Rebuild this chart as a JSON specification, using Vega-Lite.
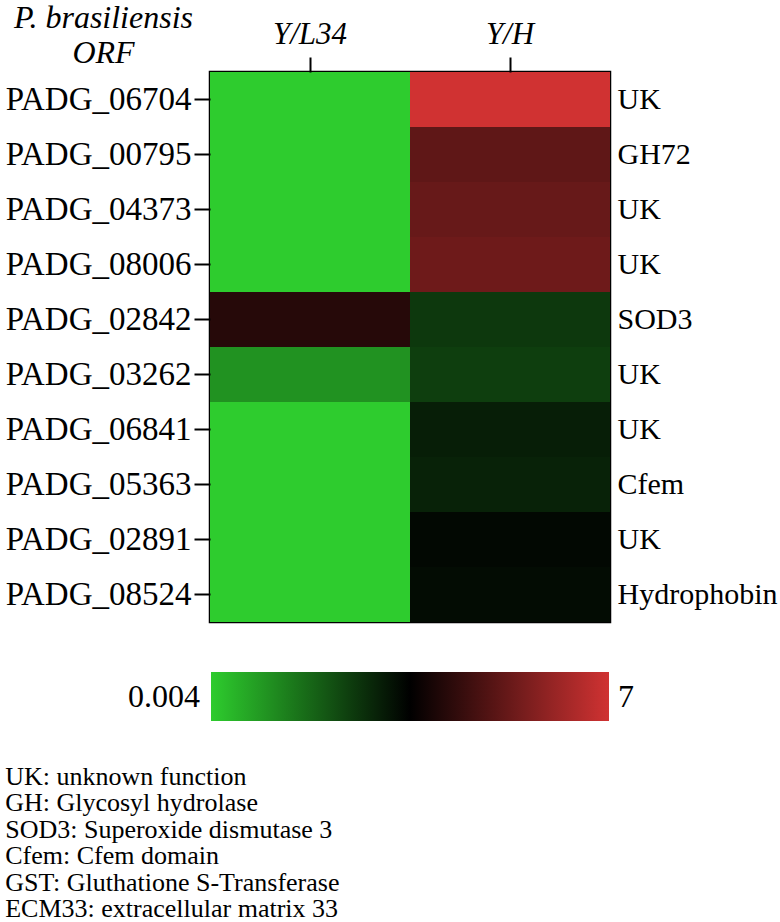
{
  "$schema": "https://vega.github.io/schema/vega-lite/v6.json",
  "width": 400,
  "height": 550,
  "autosize": {"type": "none"},
  "padding": {"left": 210, "top": 72, "right": 170, "bottom": 300},
  "background": "white",
  "config": {
    "view": {"stroke": "black", "strokeWidth": 2.5},
    "font": "Liberation Serif"
  },
  "title": {
    "text": ["UK: unknown function", "GH: Glycosyl hydrolase", "SOD3: Superoxide dismutase 3", "Cfem: Cfem domain", "GST: Gluthatione S-Transferase", "ECM33: extracellular matrix 33"],
    "orient": "bottom",
    "anchor": "start",
    "frame": "bounds",
    "offset": 43,
    "font": "Liberation Serif",
    "fontSize": 26,
    "fontWeight": "normal",
    "lineHeight": 26.4,
    "color": "black"
  },
  "data": {
    "values": [
      {"orf": "PADG_06704", "condition": "Y/L34", "value": 0.004},
      {"orf": "PADG_06704", "condition": "Y/H", "value": 7},
      {"orf": "PADG_00795", "condition": "Y/L34", "value": 0.004},
      {"orf": "PADG_00795", "condition": "Y/H", "value": 5.1},
      {"orf": "PADG_04373", "condition": "Y/L34", "value": 0.004},
      {"orf": "PADG_04373", "condition": "Y/H", "value": 5.23},
      {"orf": "PADG_08006", "condition": "Y/L34", "value": 0.004},
      {"orf": "PADG_08006", "condition": "Y/H", "value": 5.35},
      {"orf": "PADG_02842", "condition": "Y/L34", "value": 4.14},
      {"orf": "PADG_02842", "condition": "Y/H", "value": 2.54},
      {"orf": "PADG_03262", "condition": "Y/L34", "value": 1.0},
      {"orf": "PADG_03262", "condition": "Y/H", "value": 2.44},
      {"orf": "PADG_06841", "condition": "Y/L34", "value": 0.004},
      {"orf": "PADG_06841", "condition": "Y/H", "value": 2.99},
      {"orf": "PADG_05363", "condition": "Y/L34", "value": 0.004},
      {"orf": "PADG_05363", "condition": "Y/H", "value": 2.92},
      {"orf": "PADG_02891", "condition": "Y/L34", "value": 0.004},
      {"orf": "PADG_02891", "condition": "Y/H", "value": 3.36},
      {"orf": "PADG_08524", "condition": "Y/L34", "value": 0.004},
      {"orf": "PADG_08524", "condition": "Y/H", "value": 3.3}
    ]
  },
  "layer": [
    {
      "mark": {"type": "rect"},
      "encoding": {
        "x": {
          "field": "condition",
          "type": "nominal",
          "sort": ["Y/L34", "Y/H"],
          "scale": {"paddingInner": 0, "paddingOuter": 0},
          "axis": {
            "orient": "top",
            "title": null,
            "labelAngle": 0,
            "labelFont": "Liberation Serif",
            "labelFontStyle": "italic",
            "labelFontSize": 31,
            "labelColor": "black",
            "labelPadding": 7,
            "tickSize": 15,
            "tickWidth": 2,
            "tickColor": "black",
            "domain": false
          }
        },
        "y": {
          "field": "orf",
          "type": "nominal",
          "sort": ["PADG_06704", "PADG_00795", "PADG_04373", "PADG_08006", "PADG_02842", "PADG_03262", "PADG_06841", "PADG_05363", "PADG_02891", "PADG_08524"],
          "scale": {"paddingInner": 0, "paddingOuter": 0},
          "axis": {
            "orient": "left",
            "title": ["P. brasiliensis", "ORF"],
            "titleAngle": 0,
            "titleAlign": "center",
            "titleBaseline": "top",
            "titleX": -107,
            "titleY": -70,
            "titleFont": "Liberation Serif",
            "titleFontStyle": "italic",
            "titleFontWeight": "normal",
            "titleFontSize": 32,
            "titleLineHeight": 35,
            "titleColor": "black",
            "titleLimit": 400,
            "labelFont": "Liberation Serif",
            "labelFontSize": 33,
            "labelColor": "black",
            "labelLimit": 400,
            "labelPadding": 3,
            "tickSize": 16,
            "tickWidth": 2,
            "tickColor": "black",
            "domain": false
          }
        },
        "color": {
          "field": "value",
          "type": "quantitative",
          "scale": {
            "domain": [0.004, 3.502, 7],
            "range": ["#2ecc2e", "#000000", "#d03232"],
            "interpolate": "rgb"
          },
          "legend": {
            "orient": "none",
            "legendX": 1,
            "legendY": 600,
            "direction": "horizontal",
            "title": null,
            "gradientLength": 398,
            "gradientThickness": 49,
            "gradientStrokeWidth": 0,
            "values": [0.004, 7],
            "format": ".3~f",
            "labelFont": "Liberation Serif",
            "labelFontSize": 32,
            "labelColor": "black",
            "labelOverlap": false,
            "padding": 0,
            "encode": {
              "labels": {
                "update": {
                  "x": {"signal": "datum.value < 1 ? -11 : 407"},
                  "y": {"value": 24.5},
                  "align": {"signal": "datum.value < 1 ? 'right' : 'left'"},
                  "baseline": {"value": "middle"}
                }
              }
            }
          }
        }
      }
    },
    {
      "mark": {"type": "rect", "opacity": 0},
      "encoding": {
        "y": {
          "field": "orf",
          "type": "nominal",
          "sort": ["PADG_06704", "PADG_00795", "PADG_04373", "PADG_08006", "PADG_02842", "PADG_03262", "PADG_06841", "PADG_05363", "PADG_02891", "PADG_08524"],
          "scale": {"paddingInner": 0, "paddingOuter": 0},
          "axis": {
            "orient": "right",
            "title": null,
            "ticks": false,
            "domain": false,
            "labelPadding": 7,
            "labelFont": "Liberation Serif",
            "labelFontSize": 30,
            "labelColor": "black",
            "labelLimit": 400,
            "labelExpr": "['UK','GH72','UK','UK','SOD3','UK','UK','Cfem','UK','Hydrophobin'][indexof(['PADG_06704','PADG_00795','PADG_04373','PADG_08006','PADG_02842','PADG_03262','PADG_06841','PADG_05363','PADG_02891','PADG_08524'], datum.value)]"
          }
        }
      }
    }
  ],
  "resolve": {"scale": {"y": "independent"}, "axis": {"y": "independent"}}
}
